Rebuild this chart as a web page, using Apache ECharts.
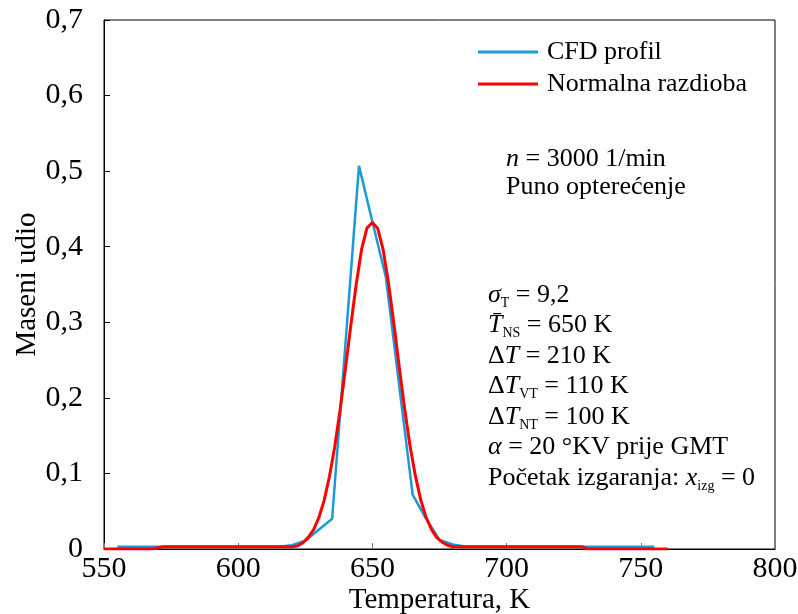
<!DOCTYPE html>
<html>
<head>
<meta charset="utf-8">
<script src="https://cdn.jsdelivr.net/npm/echarts@6/dist/echarts.min.js"></script>
<style>
html,body{margin:0;padding:0;background:#fff;}
#chart{width:798px;height:614px;}
</style>
</head>
<body>
<div id="chart"></div>
<script>
// ---- data ----
const seriesNames = ['CFD profil', 'Normalna razdioba'];

const cfdT = [555, 615, 620, 625, 635, 645, 650, 655, 665, 670, 675, 680, 685, 755];
const cfdY = [0.003, 0.003, 0.005, 0.011, 0.040, 0.507, 0.433, 0.360, 0.072, 0.040, 0.012, 0.006, 0.003, 0.003];

const normT = [550, 568, 572, 618, 620, 622, 624, 626, 628, 630, 632, 634, 636, 638, 640, 642, 644, 646, 648, 650,
               652, 654, 656, 658, 660, 662, 664, 666, 668, 670, 672, 674, 676, 678, 680, 728, 730, 760];
const normY = [0, 0, 0.003, 0.003, 0.003, 0.004, 0.008, 0.015, 0.025, 0.041, 0.064, 0.096, 0.136, 0.185, 0.240, 0.297, 0.351, 0.397, 0.425, 0.432,
               0.424, 0.396, 0.352, 0.298, 0.241, 0.186, 0.137, 0.097, 0.065, 0.042, 0.026, 0.015, 0.009, 0.005, 0.003, 0.003, 0, 0];

const xTitle = 'Temperatura, K';
const yTitle = 'Maseni udio';

const noteTop = ['{i|n}{r| = 3000 1/min}', '{r|Puno opterećenje}'];
const noteBottom = [
  '{i|σ}{s|T}{r| = 9,2}',
  '{i|T\u0304}{s|NS}{r| = 650 K}',
  '{r|Δ}{i|T}{r| = 210 K}',
  '{r|Δ}{i|T}{s|VT}{r| = 110 K}',
  '{r|Δ}{i|T}{s|NT}{r| = 100 K}',
  '{i|α}{r| = 20 °KV prije GMT}',
  '{r|Početak izgaranja: }{i|x}{s|izg}{r| = 0}'
];

// ---- chart ----
const FONT = '"Liberation Serif", "Times New Roman", serif';
const rich = {
  r: {fontFamily: FONT, fontSize: 26, lineHeight: 30, color: '#000'},
  i: {fontFamily: FONT, fontSize: 26, lineHeight: 30, fontStyle: 'italic', color: '#000'},
  s: {fontFamily: FONT, fontSize: 14, lineHeight: 18, verticalAlign: 'bottom', color: '#000'}
};

function textEl(str, x, y) {
  return {type: 'text', x: x, y: y, z: 100, style: {text: str, rich: rich, fontFamily: FONT, fontSize: 26, fill: '#000'}};
}
const graphics = [];
noteTop.forEach((t, k) => graphics.push(textEl(t, 506, 144 + k * 28)));
noteBottom.forEach((t, k) => graphics.push(textEl(t, 488, 280 + k * 30.5)));

const chart = echarts.init(document.getElementById('chart'));
chart.setOption({
  animation: false,
  backgroundColor: '#fff',
  grid: {left: 104, right: 23, top: 20, bottom: 65, show: true, borderColor: '#000', borderWidth: 1,
         containLabel: false, outerBoundsMode: 'none'},
  legend: {
    orient: 'vertical', left: 473, top: 32, itemWidth: 60, itemHeight: 3, itemGap: 2,
    icon: 'rect',
    textStyle: {fontFamily: FONT, fontSize: 26, lineHeight: 30, color: '#000', padding: [0, 0, 0, 4]},
    data: seriesNames
  },
  xAxis: {
    type: 'value', min: 550, max: 800, interval: 50,
    name: xTitle, nameLocation: 'middle', nameGap: 37, nameMoveOverlap: false,
    nameTextStyle: {fontFamily: FONT, fontSize: 29, color: '#000'},
    axisLine: {show: true, lineStyle: {color: '#000', width: 1}},
    axisTick: {show: true, inside: true, length: 6, lineStyle: {color: '#777'}},
    axisLabel: {fontFamily: FONT, fontSize: 30, color: '#000', margin: 5},
    splitLine: {show: false}
  },
  yAxis: {
    type: 'value', min: 0, max: 0.7, interval: 0.1,
    name: yTitle, nameLocation: 'middle', nameGap: 62, nameMoveOverlap: false,
    nameTextStyle: {fontFamily: FONT, fontSize: 29, color: '#000'},
    axisLine: {show: true, lineStyle: {color: '#000', width: 1}},
    axisTick: {show: true, inside: true, length: 6, lineStyle: {color: '#000'}},
    axisLabel: {fontFamily: FONT, fontSize: 30, color: '#000', margin: 21,
      formatter: v => (Math.round(v * 10) / 10).toString().replace('.', ',')},
    splitLine: {show: false}
  },
  graphic: graphics,
  series: [
    {
      name: seriesNames[0], type: 'line', symbol: 'none',
      data: cfdT.map((t, k) => [t, cfdY[k]]),
      lineStyle: {color: '#1a9bd7', width: 2.5}, itemStyle: {color: '#1a9bd7'}, z: 2
    },
    {
      name: seriesNames[1], type: 'line', symbol: 'none',
      data: normT.map((t, k) => [t, normY[k]]),
      lineStyle: {color: '#ff0000', width: 3}, itemStyle: {color: '#ff0000'}, z: 3
    }
  ]
});
</script>
</body>
</html>
